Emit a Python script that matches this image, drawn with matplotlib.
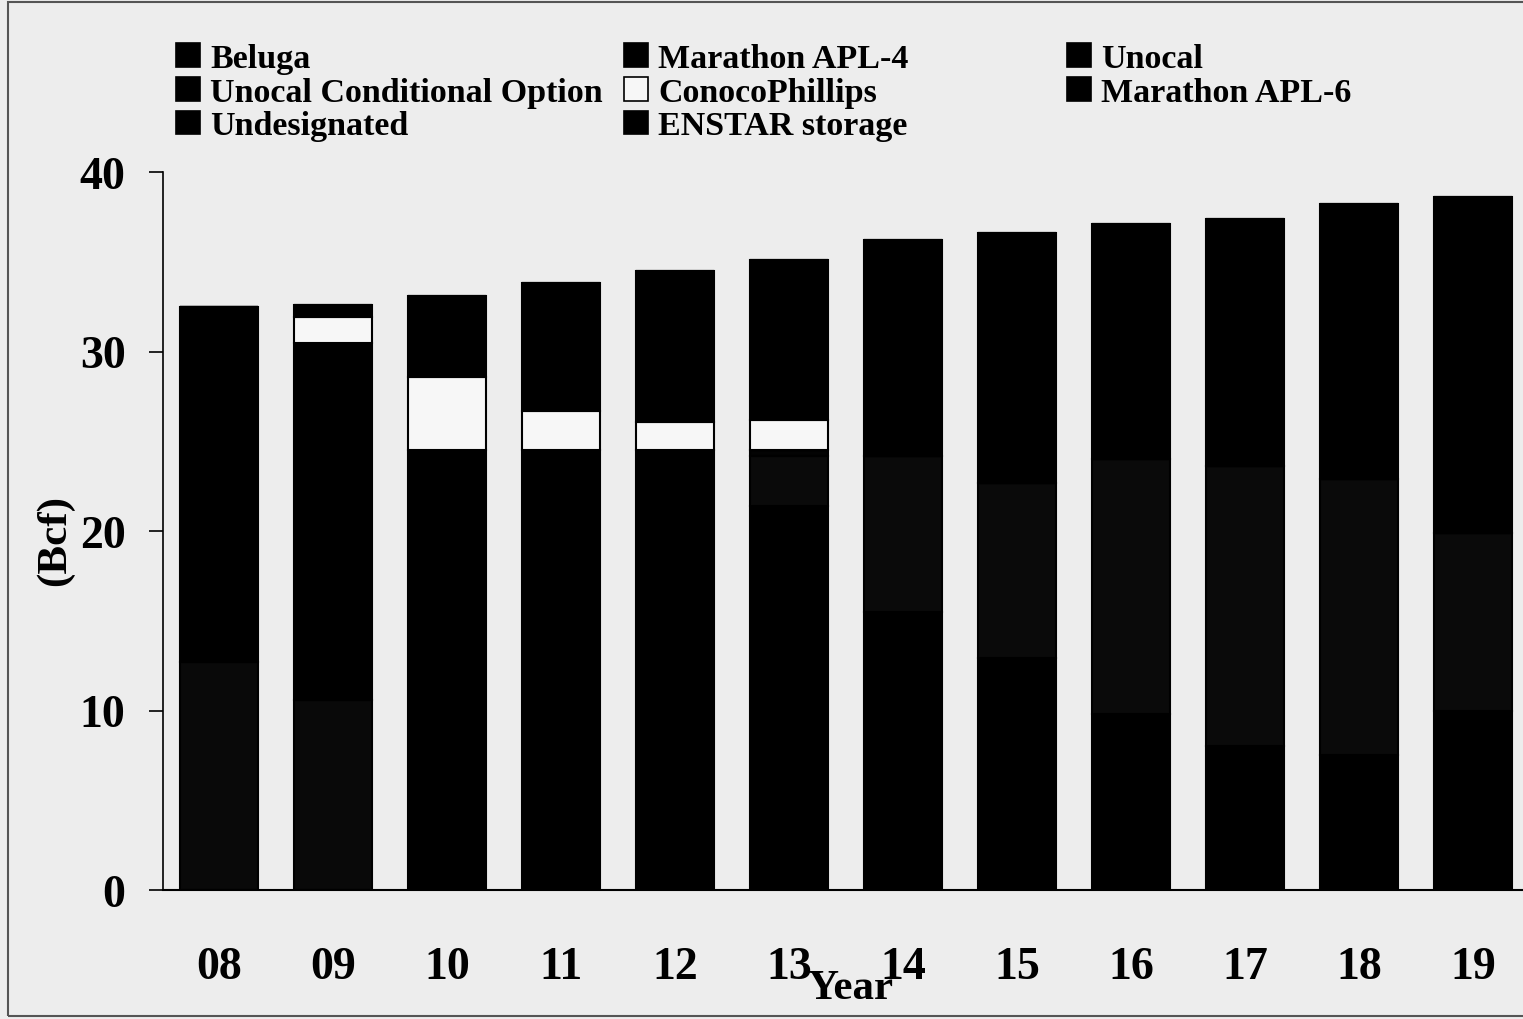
import numpy as np
import matplotlib
matplotlib.use("Agg")
import matplotlib.pyplot as plt
from matplotlib.patches import Patch, Rectangle

plt.rcParams['font.family'] = ['Liberation Serif', 'DejaVu Serif']
plt.rcParams['font.weight'] = 'bold'

years = ['08', '09', '10', '11', '12', '13', '14', '15', '16', '17', '18', '19']

# stacked contract volumes (Bcf), bottom to top
beluga = [12.7, 10.6, 0, 0, 0, 0, 0, 0, 0, 0, 0, 0]
unocal = [19.8, 19.9, 24.5, 24.5, 24.5, 21.4, 15.5, 12.9, 9.8, 8.0, 7.5, 10.0]
marathon_apl4 = [0, 0, 0, 0, 0, 2.8, 8.7, 9.8, 14.2, 15.6, 15.4, 9.9]
unocal_cond = [0, 0, 0, 0, 0, 0.3, 0, 0, 0, 0, 0, 0]
conoco = [0, 1.4, 4.1, 2.2, 1.6, 1.7, 0, 0, 0, 0, 0, 0]
marathon_apl6 = [0, 0.7, 4.5, 7.1, 8.4, 8.9, 12.0, 13.9, 13.1, 13.8, 15.3, 18.7]
undesignated = [0, 0, 0, 0, 0, 0, 0, 0, 0, 0, 0, 0]
enstar = [0, 0, 0, 0, 0, 0, 0, 0, 0, 0, 0, 0]

series = [
    ('Beluga', beluga, '#090909'),
    ('Unocal', unocal, '#000000'),
    ('Marathon APL-4', marathon_apl4, '#0a0a0a'),
    ('Unocal Conditional Option', unocal_cond, '#030303'),
    ('ConocoPhillips', conoco, '#f7f7f7'),
    ('Marathon APL-6', marathon_apl6, '#000000'),
    ('Undesignated', undesignated, '#050505'),
    ('ENSTAR storage', enstar, '#060606'),
]

W, H = 1523, 1020
bg = '#ededed'
fig = plt.figure(figsize=(W / 100, H / 100), dpi=100, facecolor=bg)
ax = fig.add_axes([163 / W, 1 - 891 / H, 1 - 163 / W, (891 - 173) / H])
ax.set_facecolor(bg)

x = np.arange(len(years))
bottom = np.zeros(len(years))
handles = {}
for name, vals, col in series:
    vals = np.array(vals, dtype=float)
    ax.bar(x, vals, width=0.684, bottom=bottom, color=col,
           edgecolor='black', linewidth=1.5)
    bottom += vals
    handles[name] = Patch(facecolor=col if col == '#f7f7f7' else 'black',
                          edgecolor='black', linewidth=1.2)

ax.set_xlim(-0.49, 11.44)
ax.set_ylim(0, 40)
ax.set_yticks([0, 10, 20, 30, 40])
ax.set_xticks(x)
ax.set_xticklabels(years)
ax.tick_params(axis='y', direction='out', length=10, width=1.2, pad=17,
               labelsize=33)
ax.tick_params(axis='x', length=0, pad=40, labelsize=33)
for s in ['top', 'right']:
    ax.spines[s].set_visible(False)
ax.spines['left'].set_linewidth(1.2)
ax.spines['bottom'].set_linewidth(1.5)

fig.text(850 / W, 1 - 989 / H, 'Year', ha='center', va='center',
         fontsize=31, fontweight='bold')
fig.text(55 / W, 1 - 540 / H, '(Bcf)', ha='center', va='center',
         rotation=90, fontsize=31, fontweight='bold')

# legend, three columns placed separately
cols = [
    (176, ['Beluga', 'Unocal Conditional Option', 'Undesignated']),
    (624, ['Marathon APL-4', 'ConocoPhillips', 'ENSTAR storage']),
    (1067, ['Unocal', 'Marathon APL-6']),
]
for xpos, names in cols:
    fig.legend([handles[n] for n in names], names,
               loc='upper left', bbox_to_anchor=(xpos / W, 1 - 44 / H),
               frameon=False, handlelength=0.7,
               handleheight=0.7, handletextpad=0.3, labelspacing=0.08,
               borderpad=0, borderaxespad=0,
               prop={'weight': 'bold', 'size': 24.5})

# scanned page border
fig.patches.append(Rectangle((8 / W, 3 / H), 1.2, 1 - 6 / H,
                             transform=fig.transFigure, fill=False,
                             edgecolor='#555555', linewidth=1.5))

fig.savefig('out.png', dpi=100, facecolor=bg)
